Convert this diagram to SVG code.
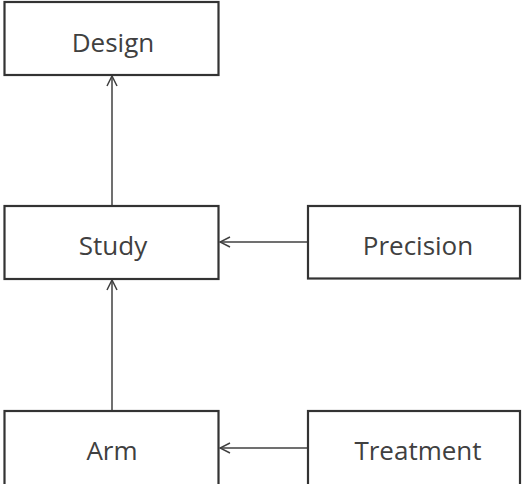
<svg xmlns="http://www.w3.org/2000/svg" width="522" height="484" viewBox="0 0 522 484">
<style>
.box{fill:#fff;stroke:#333;stroke-width:2.2}
.lbl{font-family:"Open Sans",sans-serif;font-size:26px;fill:#404040;text-anchor:middle}
.con{stroke:#404040;stroke-width:1.5;fill:none}
</style>
<defs>
<marker id="ah" viewBox="0 0 12 12" refX="11" refY="6" markerWidth="12" markerHeight="12" markerUnits="userSpaceOnUse" orient="auto">
<path d="M1,1 L11,6 L1,11" fill="none" stroke="#404040" stroke-width="1.5"/>
</marker>
</defs>
<rect width="522" height="484" fill="#fff"/>
<g id="connectors">
<line class="con" x1="112" y1="206" x2="112" y2="76" marker-end="url(#ah)"/>
<line class="con" x1="112" y1="410" x2="112" y2="280" marker-end="url(#ah)"/>
<line class="con" x1="308" y1="242" x2="220" y2="242" marker-end="url(#ah)"/>
<line class="con" x1="308" y1="448" x2="220" y2="448" marker-end="url(#ah)"/>
</g>
<g id="design"><rect class="box" x="4.5" y="2" width="214" height="73"/><text class="lbl" x="113" y="52">Design</text></g>
<g id="study"><rect class="box" x="4.5" y="206" width="214" height="73"/><text class="lbl" x="113" y="255">Study</text></g>
<g id="precision"><rect class="box" x="308" y="206" width="212" height="72.5"/><text class="lbl" x="418" y="255">Precision</text></g>
<g id="arm"><rect class="box" x="4.5" y="411" width="214" height="80"/><text class="lbl" x="112" y="460">Arm</text></g>
<g id="treatment"><rect class="box" x="308" y="411" width="212" height="80"/><text class="lbl" x="418" y="460">Treatment</text></g>
</svg>
